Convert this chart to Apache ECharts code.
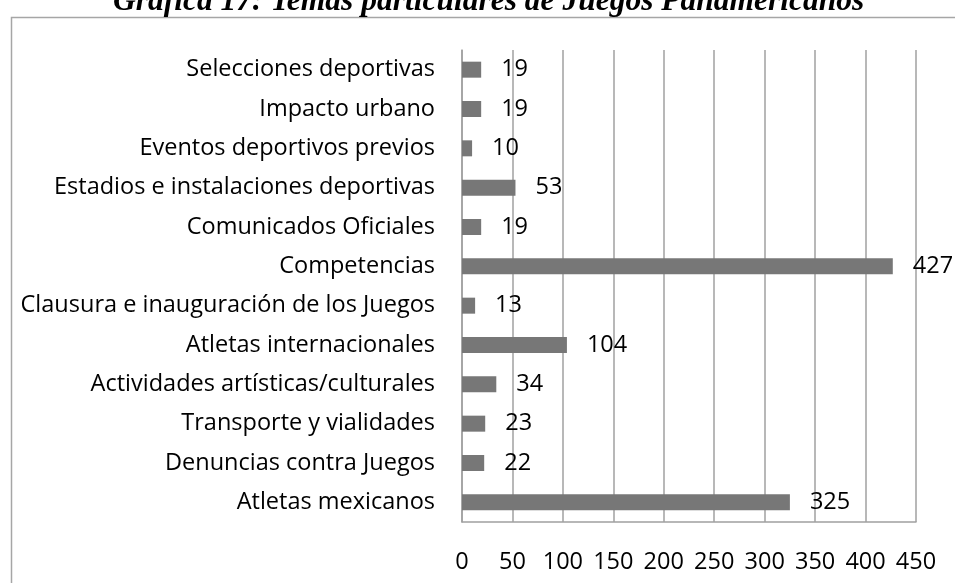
<!DOCTYPE html>
<html>
<head>
<meta charset="utf-8">
<script src="https://cdn.jsdelivr.net/npm/echarts@6/dist/echarts.min.js"></script>
<style>
  html, body { margin: 0; padding: 0; background: #fff; }
  #chart { width: 955px; height: 583px; }
</style>
</head>
<body>
<div id="chart"></div>
<script>
// temas, de abajo hacia arriba (como los dibuja el eje de categorias)
var categories = [
  'Atletas mexicanos',
  'Denuncias contra Juegos',
  'Transporte y vialidades',
  'Actividades artísticas/culturales',
  'Atletas internacionales',
  'Clausura e inauguración de los Juegos',
  'Competencias',
  'Comunicados Oficiales',
  'Estadios e instalaciones deportivas',
  'Eventos deportivos previos',
  'Impacto urbano',
  'Selecciones deportivas'
];
var values = [325, 22, 23, 34, 104, 13, 427, 19, 53, 10, 19, 19];
var xTicks = [0, 450, 50]; // min, max, paso

var FONT = '"Open Sans", "Noto Sans", sans-serif';
var chart = echarts.init(document.getElementById('chart'));

chart.setOption({
  animation: false,
  title: {
    text: 'Gráfica 17: Temas particulares de Juegos Panamericanos',
    left: 108,
    top: -19,
    textStyle: {
      fontFamily: '"Liberation Serif", serif',
      fontStyle: 'italic',
      fontWeight: 'bold',
      fontSize: 31.5,
      color: '#000'
    }
  },
  graphic: [{
    type: 'rect',
    left: 9,
    top: 15,
    shape: { width: 1000, height: 1000 },
    style: { fill: 'none', stroke: '#a6a6a6', lineWidth: 1.5 },
    silent: true
  }],
  grid: { left: 462, right: 39, top: 50, bottom: 61 },
  xAxis: {
    type: 'value',
    min: xTicks[0],
    max: xTicks[1],
    interval: xTicks[2],
    axisLine: { show: true, lineStyle: { color: '#a0a0a0', width: 1.5 } },
    axisTick: { show: false },
    splitLine: { show: true, lineStyle: { color: '#a0a0a0', width: 1.5 } },
    axisLabel: { color: '#000', fontFamily: FONT, fontSize: 23.5, margin: 28 }
  },
  yAxis: {
    type: 'category',
    data: categories,
    axisLine: { show: true, lineStyle: { color: '#a0a0a0', width: 1.5 } },
    axisTick: { show: false },
    axisLabel: { color: '#000', fontFamily: FONT, fontSize: 23.5, margin: 27 }
  },
  series: [{
    type: 'bar',
    data: values,
    barWidth: 16,
    itemStyle: { color: '#777777' },
    label: {
      show: true,
      position: 'right',
      distance: 20,
      color: '#000',
      fontFamily: FONT,
      fontSize: 23.5
    }
  }]
});
</script>
</body>
</html>
